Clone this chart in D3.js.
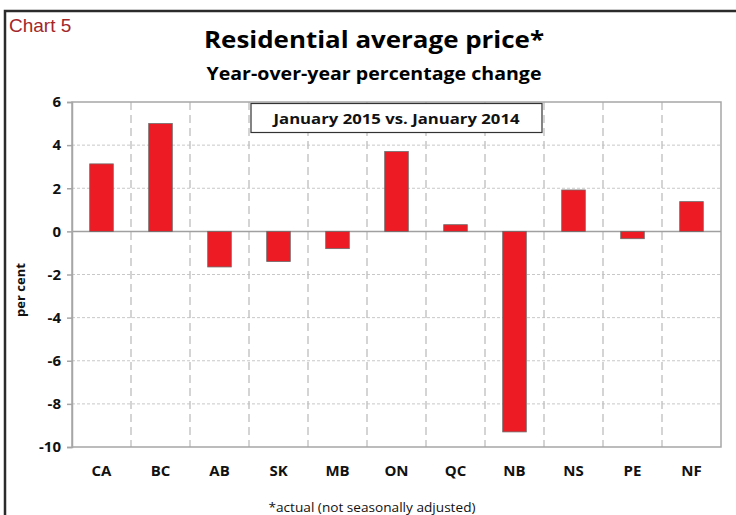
<!DOCTYPE html>
<html>
<head>
<meta charset="utf-8">
<script src="https://cdn.jsdelivr.net/npm/d3@7"></script>
<style>
  body { margin: 0; background: #fff; }
  text { font-family: "Open Sans", "DejaVu Sans", sans-serif; }
</style>
</head>
<body>
<div id="chart"></div>
<script>
var provinces = ["CA", "BC", "AB", "SK", "MB", "ON", "QC", "NB", "NS", "PE", "NF"];
var changes = [3.13, 5.0, -1.65, -1.4, -0.8, 3.7, 0.31, -9.3, 1.92, -0.34, 1.38];
var yTicks = [6, 4, 2, 0, -2, -4, -6, -8, -10];

var W = 736, H = 515;
var margin = {top: 102, right: 15, bottom: 68, left: 72},
    width = W - margin.left - margin.right,
    height = H - margin.top - margin.bottom;

var svg = d3.select("#chart").append("svg")
  .attr("width", W).attr("height", H);

// outer frame
svg.append("rect")
  .attr("x", 5).attr("y", 11)
  .attr("width", W + 10).attr("height", H + 10)
  .attr("fill", "none").attr("stroke", "#2b2b2b").attr("stroke-width", 2.5);

svg.append("text").attr("x", 9).attr("y", 32)
  .style("font-family", "'Liberation Sans', Arial, sans-serif")
  .style("font-size", "19px").attr("fill", "#a3262a")
  .text("Chart 5");

svg.append("text").attr("x", 374).attr("y", 48)
  .attr("text-anchor", "middle")
  .style("font-size", "24px").style("font-weight", "bold")
  .attr("textLength", 340).attr("lengthAdjust", "spacingAndGlyphs")
  .text("Residential average price*");

svg.append("text").attr("x", 374).attr("y", 80)
  .attr("text-anchor", "middle")
  .style("font-size", "17px").style("font-weight", "bold")
  .attr("textLength", 335).attr("lengthAdjust", "spacingAndGlyphs")
  .text("Year-over-year percentage change");

var g = svg.append("g")
  .attr("transform", "translate(" + margin.left + "," + margin.top + ")");

var x = d3.scaleBand().domain(provinces).range([0, width]).paddingInner(0.6).paddingOuter(0.3);
var y = d3.scaleLinear().domain([-10, 6]).range([height, 0]);
var step = x.step();

// horizontal grid
g.selectAll(".hgrid").data(yTicks.filter(function(d) { return d != 0 && d != -10 && d != 6; }))
  .enter().append("line")
  .attr("x1", 0).attr("x2", width)
  .attr("y1", function(d) { return y(d); }).attr("y2", function(d) { return y(d); })
  .attr("stroke", "#c8c8c8").attr("stroke-dasharray", "3,2");

// vertical grid between categories
g.selectAll(".vgrid").data(provinces.slice(1))
  .enter().append("line")
  .attr("x1", function(d) { return x(d) - (step - x.bandwidth()) / 2; })
  .attr("x2", function(d) { return x(d) - (step - x.bandwidth()) / 2; })
  .attr("y1", 0).attr("y2", height)
  .attr("stroke", "#bdbdbd").attr("stroke-width", 1.3).attr("stroke-dasharray", "8,5");

// plot border
g.append("rect").attr("x", 0).attr("y", 0).attr("width", width).attr("height", height)
  .attr("fill", "none").attr("stroke", "#a6a6a6").attr("stroke-width", 1.5);

// zero line
g.append("line").attr("x1", 0).attr("x2", width)
  .attr("y1", y(0)).attr("y2", y(0))
  .attr("stroke", "#a0a0a0").attr("stroke-width", 1.5);

// bars
g.selectAll(".bar").data(changes)
  .enter().append("rect")
  .attr("x", function(d, i) { return x(provinces[i]); })
  .attr("width", x.bandwidth())
  .attr("y", function(d) { return y(Math.max(0, d)); })
  .attr("height", function(d) { return Math.abs(y(d) - y(0)); })
  .attr("fill", "#ed1c24").attr("stroke", "#6b6b6b").attr("stroke-width", 0.8);

// y axis
var yAxis = g.append("g").call(d3.axisLeft(y).tickValues(yTicks).tickSize(5).tickPadding(6)
  .tickFormat(function(d) { return String(d); }));
yAxis.select(".domain").attr("stroke", "#a6a6a6").attr("stroke-width", 1.5);
yAxis.selectAll(".tick line").attr("stroke", "#a6a6a6").attr("stroke-width", 1.5);
yAxis.selectAll("text").style("font-size", "15px").style("font-weight", "bold")
  .style("font-family", "'Open Sans', sans-serif").attr("fill", "#111");

// x labels
g.selectAll(".xl").data(provinces)
  .enter().append("text")
  .attr("x", function(d) { return x(d) + x.bandwidth() / 2; })
  .attr("y", height + 29)
  .attr("text-anchor", "middle")
  .style("font-size", "15px").style("font-weight", "bold").attr("fill", "#111")
  .text(function(d) { return d; });

svg.append("text")
  .attr("transform", "translate(25,290) rotate(-90)")
  .attr("text-anchor", "middle")
  .style("font-size", "13px").style("font-weight", "bold").attr("fill", "#111")
  .text("per cent");

// legend box
var lg = g.append("g");
lg.append("rect").attr("x", 179).attr("y", 1.5).attr("width", 291).attr("height", 29)
  .attr("fill", "#fff").attr("stroke", "#333").attr("stroke-width", 1.2);
lg.append("text").attr("x", 179 + 145.5).attr("y", 22)
  .attr("text-anchor", "middle")
  .style("font-size", "15px").style("font-weight", "bold").attr("fill", "#111")
  .attr("textLength", 246).attr("lengthAdjust", "spacingAndGlyphs")
  .text("January 2015 vs. January 2014");

svg.append("text").attr("x", 372).attr("y", 512)
  .attr("text-anchor", "middle")
  .style("font-size", "13.5px").attr("fill", "#111")
  .attr("textLength", 207).attr("lengthAdjust", "spacingAndGlyphs")
  .text("*actual (not seasonally adjusted)");
</script>
</body>
</html>
